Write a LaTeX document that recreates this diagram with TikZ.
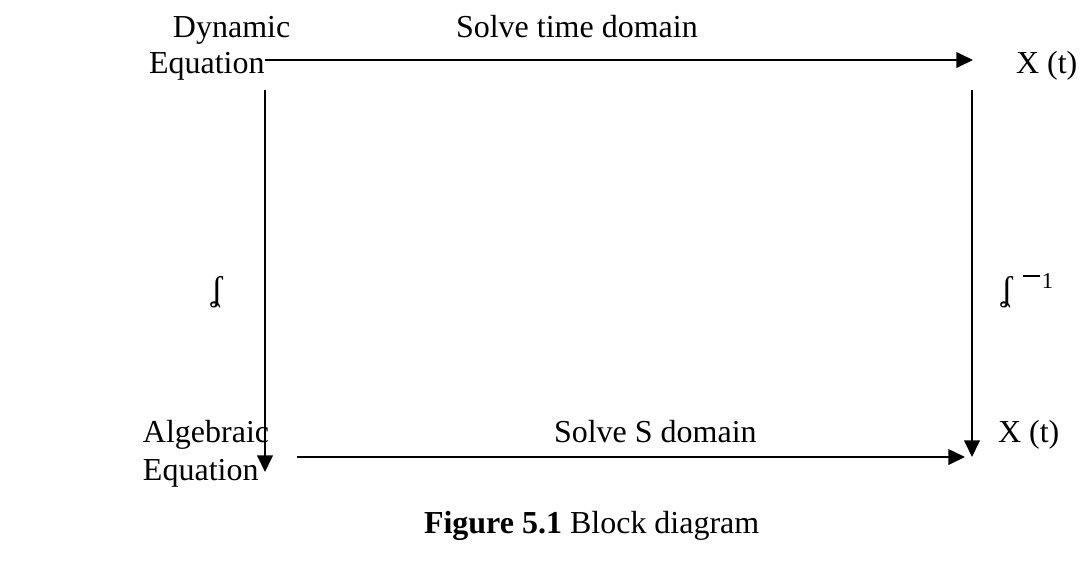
\documentclass[tikz,border=0pt]{standalone}
\usepackage{fontspec}
\setmainfont{Liberation Serif}
\usetikzlibrary{arrows.meta}
\newcommand{\bdtext}[3] {\node at (#1) (#2) [anchor=base west] {#3};}
\newcommand{\bdpoint}[2] {\coordinate (#2) at (#1);}
\newcommand{\bdarrow}[2] {\draw [-{Triangle[length=6.2pt, width=5.8pt]}] (#1) -- (#2);}

\begin{document}
\begin{tikzpicture}[x=0.375pt, y=-0.375pt, inner sep=0pt, line width=0.75pt,
  font=\fontsize{12}{14}\selectfont]
\useasboundingbox (0,0) rectangle (1080,563);

\bdtext {172,37} {dyn} {Dynamic};
\bdtext {148,73} {dyneq} {Equation};
\bdtext {455,37} {soltime} {Solve time domain};
\bdtext {1015,73} {xtime} {X (t)};
\bdtext {142,442} {alg} {Algebraic};
\bdtext {142,480} {algeq} {Equation};
\bdtext {553,442} {sols} {Solve S domain};
\bdtext {997,442} {xs} {X (t)};
\bdtext {210,300} {lap} {\fontsize{13}{14}\selectfont ʆ};
\bdtext {1000,300} {invlap} {\fontsize{13}{14}\selectfont ʆ\hspace{4pt}%
  \raisebox{4.5pt}{\fontsize{8.5}{10}\selectfont\rule[4pt]{6.2pt}{0.7pt}\hspace{0.8pt}1}};

\bdpoint {265,60} {topa};
\bdpoint {973,60} {topb};
\bdpoint {265,90} {lefta};
\bdpoint {265,472} {leftb};
\bdpoint {972,90} {righta};
\bdpoint {972,457} {rightb};
\bdpoint {297,457} {bota};
\bdpoint {965,457} {botb};

\bdarrow{topa}{topb};
\bdarrow{lefta}{leftb};
\bdarrow{righta}{rightb};
\bdarrow{bota}{botb};

\bdtext {423,533} {caption} {\textbf{Figure 5.1} Block diagram};
\end{tikzpicture}
\end{document}
